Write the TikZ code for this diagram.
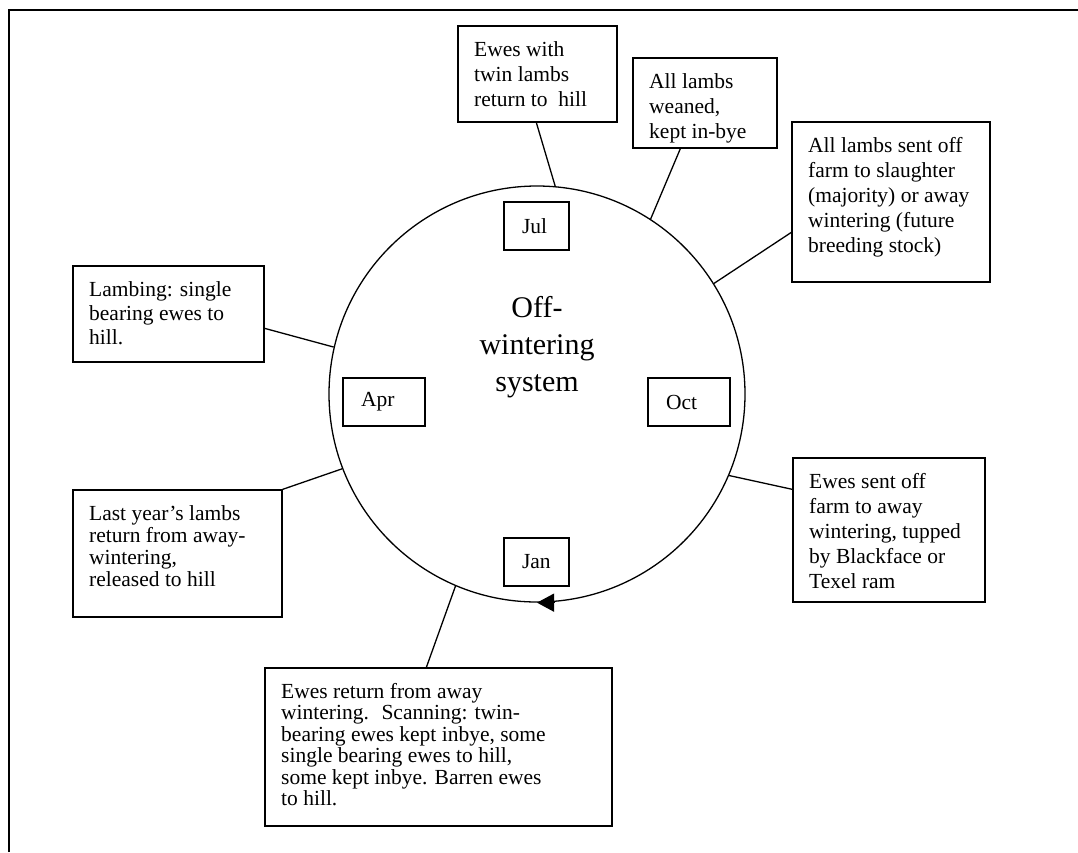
\documentclass[tikz,border=0pt]{standalone}
\usepackage{fontspec}
\setmainfont{Liberation Serif}
\usepackage{tikz}
\usetikzlibrary{arrows.meta}
\tikzset{
	boxline/.style={draw, line width=1.3pt, inner sep=0pt},
	notetext/.style={anchor=north west, align=left, inner sep=0pt},
	month/.style={draw, line width=1.3pt, minimum height=48pt, inner xsep=18pt, inner ysep=0pt, align=left, font=\fontsize{21.5}{25}\selectfont},
	link/.style={line width=1.3pt}
}
\newcommand{\notebox}[7][25] % [line spacing]{name}{x1}{y1}{x2}{y2}{text}
{
	\node[boxline, minimum width={(#5-#3)*1pt}, minimum height={(#6-#4)*1pt}] (#2) at ({(#3+#5)/2},{(#4+#6)/2}) {};
	\node[notetext, font=\fontsize{21.5}{#1}\selectfont] (#2-txt) at (#3+16,#4+15) {#7};
}

\begin{document}
\begin{tikzpicture}[x=1pt, y=-1pt]
	\useasboundingbox (0,0) rectangle (1078,852);
	\draw[line width=2pt] (9,852) |- (1078,10);
	
	%the year wheel
	\node[draw, circle, minimum size=416pt, inner sep=0pt, line width=1.3pt] (wheel) at (537,394) {};
	\node[font=\fontsize{30}{37}\selectfont, align=center] (title) at (537,347) {Off-\\wintering\\system};
	\draw[link, -{Triangle[length=17pt,width=18pt]}] ([xshift=18pt]wheel.south) -- (wheel.south);
	
	\node[month, text width=29pt] (jul) at (536.5,226) {Jul};
	\node[month, text width=29pt] (jan) at (536.5,562) {Jan};
	\node[month, text width=46pt] (apr) at (384,402) {Apr};
	\node[month, text width=46pt] (oct) at (689,402) {Oct};
	
	%events round the year
	\notebox{twin}{458}{26}{617}{122}{Ewes with\\twin lambs\\return to~ hill}
	\notebox{weaned}{633}{58}{777}{148}{All lambs\\weaned,\\kept in-bye}
	\notebox{sold}{792}{122}{990}{282}{All lambs sent off\\farm to slaughter\\(majority) or away\\wintering (future\\breeding stock)}
	\notebox[24]{lambing}{73}{266}{264}{362}{Lambing: single\\bearing ewes to\\hill.}
	\notebox[22]{lastyear}{73}{490}{282}{617}{Last year’s lambs\\return from away-\\wintering,\\released to hill}
	\notebox{ewesoff}{793}{458}{985}{602}{Ewes sent off\\farm to away\\wintering, tupped\\by Blackface or\\Texel ram}
	\notebox[21.5]{ewesback}{265}{668}{612}{826}{Ewes return from away\\wintering.~ Scanning: twin-\\bearing ewes kept inbye, some\\single bearing ewes to hill,\\some kept inbye. Barren ewes\\to hill.}
	
	\draw[link] ([xshift=79pt]twin.south west) -- (wheel.85.6);
	\draw[link] ([xshift=48pt]weaned.south west) -- (wheel.57.7);
	\draw[link] ([yshift=-111pt]sold.north west) -- (wheel.32.7);
	\draw[link] ([yshift=-63pt]lambing.north east) -- (wheel.167);
	\draw[link] (lastyear.north east) -- (wheel.201.6);
	\draw[link] ([yshift=-32pt]ewesoff.north west) -- (wheel.337.7);
	\draw[link] ([xshift=162pt]ewesback.north west) -- (wheel.247);
	
\end{tikzpicture}
\end{document}
